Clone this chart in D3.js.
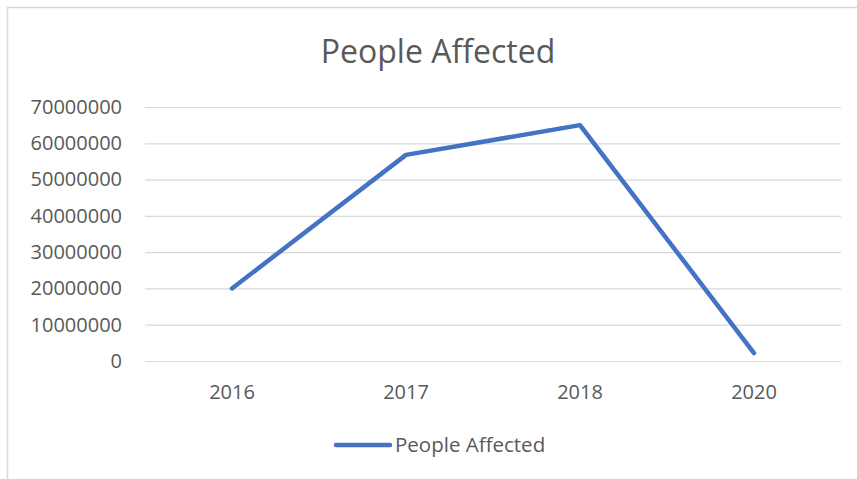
<!DOCTYPE html>
<html>
<head>
<meta charset="utf-8">
<script src="https://cdn.jsdelivr.net/npm/d3@7"></script>
<style>
  body { margin: 0; background: #fff; }
  svg { display: block; font-family: "Open Sans", sans-serif; }
</style>
</head>
<body>
<div class="vis"></div>
<script>
(function() {
  'use strict';

  var years = ['2016', '2017', '2018', '2020'];
  var affected = [20000000, 56800000, 65000000, 2200000];
  var yTicks = [0, 10000000, 20000000, 30000000, 40000000, 50000000, 60000000, 70000000];
  var seriesName = 'People Affected';

  var elWidth = 857,
    elHeight = 479,
    margin = {top: 107, right: 16, bottom: 118, left: 145},
    width = elWidth - margin.left - margin.right,
    height = elHeight - margin.top - margin.bottom;

  var svg = d3.select('.vis').append('svg')
    .attr('width', elWidth)
    .attr('height', elHeight);

  // chart frame, cut off at right and bottom like the screenshot
  svg.append('rect')
    .attr('x', 7.5)
    .attr('y', 7.5)
    .attr('width', elWidth + 20)
    .attr('height', elHeight + 20)
    .attr('fill', 'none')
    .attr('stroke', '#d9d9d9')
    .attr('stroke-width', 1.5);

  svg.append('text')
    .attr('x', 438)
    .attr('y', 63)
    .attr('text-anchor', 'middle')
    .attr('font-size', 32)
    .attr('fill', '#595959')
    .text(seriesName);

  var g = svg.append('g')
    .attr('transform', 'translate(' + margin.left + ',' + margin.top + ')');

  var x = d3.scaleBand().domain(years).range([0, width]);
  var y = d3.scaleLinear().domain([0, 70000000]).range([height, 0]);

  var yAxis = g.append('g')
    .call(d3.axisLeft(y).tickValues(yTicks).tickSize(-width).tickPadding(23).tickFormat(d3.format('d')));
  yAxis.select('.domain').remove();
  yAxis.selectAll('line').attr('stroke', '#d9d9d9').attr('stroke-width', 1.2);
  yAxis.selectAll('text')
    .attr('font-size', 20)
    .attr('fill', '#595959')
    .style('font-family', '"Open Sans", sans-serif');

  var xAxis = g.append('g')
    .attr('transform', 'translate(0,' + height + ')')
    .call(d3.axisBottom(x).tickSize(0).tickPadding(24));
  xAxis.select('.domain').remove();
  xAxis.selectAll('text')
    .attr('font-size', 20)
    .attr('fill', '#595959')
    .style('font-family', '"Open Sans", sans-serif');

  var line = d3.line()
    .x(function(d, i) { return x(years[i]) + x.bandwidth() / 2; })
    .y(function(d) { return y(d); });

  g.append('path')
    .datum(affected)
    .attr('d', line)
    .attr('fill', 'none')
    .attr('stroke', '#4472c4')
    .attr('stroke-width', 4.5)
    .attr('stroke-linecap', 'round')
    .attr('stroke-linejoin', 'round');

  // legend
  var legend = svg.append('g').attr('transform', 'translate(336,445)');
  legend.append('line')
    .attr('x1', 0).attr('x2', 54)
    .attr('stroke', '#4472c4')
    .attr('stroke-width', 4.5)
    .attr('stroke-linecap', 'round');
  legend.append('text')
    .attr('x', 59)
    .attr('dy', '0.35em')
    .attr('font-size', 20.5)
    .attr('fill', '#595959')
    .text(seriesName);
}());
</script>
</body>
</html>
